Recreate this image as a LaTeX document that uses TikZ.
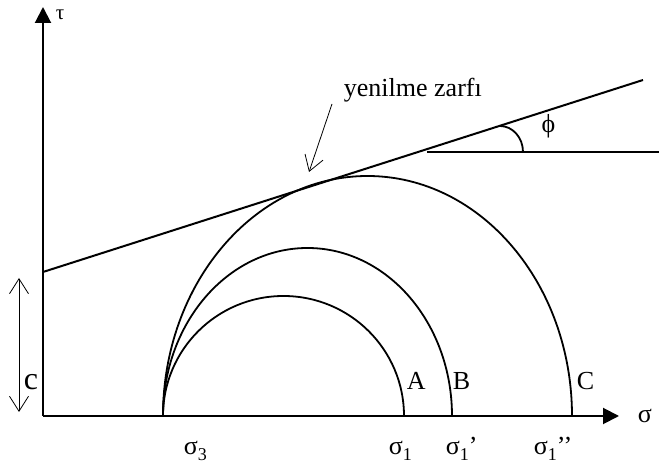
\documentclass[tikz,border=0pt]{standalone}
\usepackage{fontspec}
\setmainfont{Liberation Serif}
\usetikzlibrary{arrows.meta}
\newcommand{\sgsub}[1]{σ\raisebox{-0.2em}{\fontsize{18}{18}\selectfont #1}}
\begin{document}
\begin{tikzpicture}[x=1pt, y=1pt, line width=1.8pt,
  lbl/.style={inner sep=0pt, anchor=base west, font=\fontsize{26}{26}\selectfont},
  axis/.style={-{Triangle[length=16pt, width=16pt]}, line width=2pt},
  thinarrow/.style={line width=0.8pt, -{Straight Barb[length=15pt, width=19pt]}}]
  \useasboundingbox (0,0) rectangle (659,465);
  % Nodes
  \coordinate (o) at (43,49);
  \coordinate (ytop) at (43,458);
  \coordinate (xend) at (619,49);
  \coordinate (s3) at (163,49);
  \coordinate (env1) at (43,193);
  \coordinate (env2) at (643,385);
  \coordinate (hz1) at (427,313);
  \coordinate (hz2) at (659,313);
  \coordinate (angstart) at (500,339);
  \coordinate (cmid) at (19,120);
  \coordinate (ctop) at (19,187);
  \coordinate (cbot) at (19,53);
  \coordinate (ptail) at (332,361);
  \coordinate (phead) at (309,293);
  \node[lbl, font=\fontsize{21}{21}\selectfont] (tau) at (55,445) {τ};
  \node[lbl] (sigma) at (637,42) {σ};
  \node[lbl] (zarf) at (343,368) {yenilme zarfı};
  \node[inner sep=0pt, font=\fontsize{26}{26}\selectfont] (phi) at (548.5,339) {ϕ};
  \node[lbl, font=\fontsize{32}{32}\selectfont] (c) at (23,75) {c};
  \node[lbl] (A) at (406,75) {A};
  \node[lbl] (B) at (452,75) {B};
  \node[lbl] (C) at (576,75) {C};
  \node[lbl] (sig3) at (183,10) {\sgsub{3}};
  \node[lbl] (sig1) at (388,10) {\sgsub{1}};
  \node[lbl] (sig1p) at (445,10) {\sgsub{1}’};
  \node[lbl] (sig1pp) at (533,10) {\sgsub{1}’’};

  % Edges
  \draw[axis] (o) -- (ytop);
  \draw[axis] (o) -- (xend);
  \draw[line width=2pt] (env1) -- (env2);
  \draw[line width=2pt] (hz1) -- (hz2);
  \draw (angstart) arc[start angle=90, end angle=0, x radius=23, y radius=26];
  \draw (s3) arc[start angle=180, end angle=0, x radius=120.5, y radius=120];
  \draw (s3) arc[start angle=180, end angle=0, x radius=144.5, y radius=168];
  \draw (s3) arc[start angle=180, end angle=0, x radius=204.5, y radius=240];
  \draw[thinarrow] (cmid) -- (ctop);
  \draw[thinarrow] (cmid) -- (cbot);
  \draw[thinarrow] (ptail) -- (phead);
\end{tikzpicture}
\end{document}
